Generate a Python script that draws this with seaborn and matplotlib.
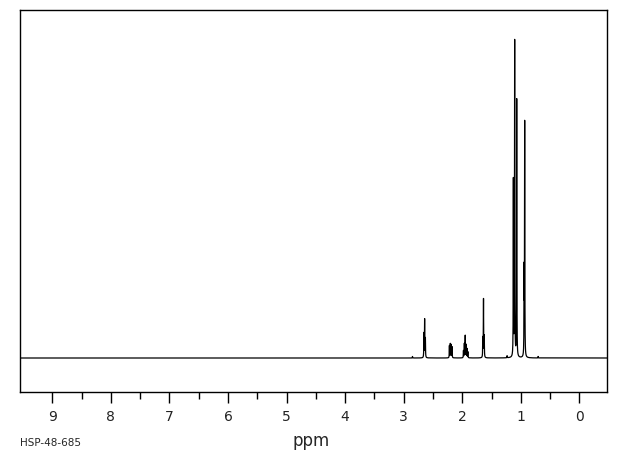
import numpy as np
import pandas as pd
import matplotlib
matplotlib.use("Agg")
import matplotlib.pyplot as plt
import seaborn as sns
from matplotlib.ticker import MultipleLocator, FixedLocator

# peak list: shift (ppm) and height (baseline = 0)
peak_ppm = [2.85, 2.655, 2.643, 2.630,
            2.220, 2.205, 2.190, 2.175,
            1.980, 1.965, 1.950, 1.935, 1.920, 1.905,
            1.650, 1.638, 1.625,
            1.235, 1.128, 1.106, 1.071,
            0.945, 0.935, 0.705]
peak_height = [1.5, 24, 38, 19,
               12, 14, 13, 11,
               7, 14, 22, 13, 9, 6,
               19, 58, 21,
               2, 176, 315, 259,
               82, 234, 1.5]
peak_hwhm = 0.0025

ppm = np.arange(-0.5, 9.56, 0.0004)
intensity = np.zeros_like(ppm)
for c, h in zip(peak_ppm, peak_height):
    intensity += h / (1 + ((ppm - c) / peak_hwhm) ** 2)

df = pd.DataFrame({"ppm": ppm, "intensity": intensity})

sns.set_style("white")
plt.rcParams["font.family"] = ["DejaVu Sans"]

fig = plt.figure(figsize=(6.2, 4.55), dpi=100)
ax = fig.add_axes([20 / 620, 1 - 392 / 455, 587 / 620, 382 / 455])

sns.lineplot(data=df, x="ppm", y="intensity", color="black", linewidth=0.9,
             ax=ax, estimator=None, sort=False)

ax.set_xlim(9.55, -0.47)
ax.set_ylim(-34, 348)
ax.set_yticks([])
ax.xaxis.set_major_locator(MultipleLocator(1))
ax.xaxis.set_minor_locator(FixedLocator([0.5 + i for i in range(9)]))
ax.tick_params(axis="x", which="major", direction="out", length=8, width=1,
               color="black", labelsize=10, pad=5, bottom=True)
ax.tick_params(axis="x", which="minor", direction="out", length=5, width=1,
               color="black", bottom=True)
ax.set_xticks(range(10))
ax.set_xticklabels([str(t) for t in range(10)], color="#222222")
ax.set_xlim(9.55, -0.47)
ax.set_xlabel("")
ax.set_ylabel("")
for s in ax.spines.values():
    s.set_visible(True)
    s.set_color("black")
    s.set_linewidth(1)

fig.text(311 / 620, 1 - 441 / 455, "ppm", ha="center", va="center", fontsize=12)
fig.text(20 / 620, 1 - 443 / 455, "HSP-48-685", ha="left", va="center", fontsize=7.5)

fig.savefig("out.png", dpi=100)
